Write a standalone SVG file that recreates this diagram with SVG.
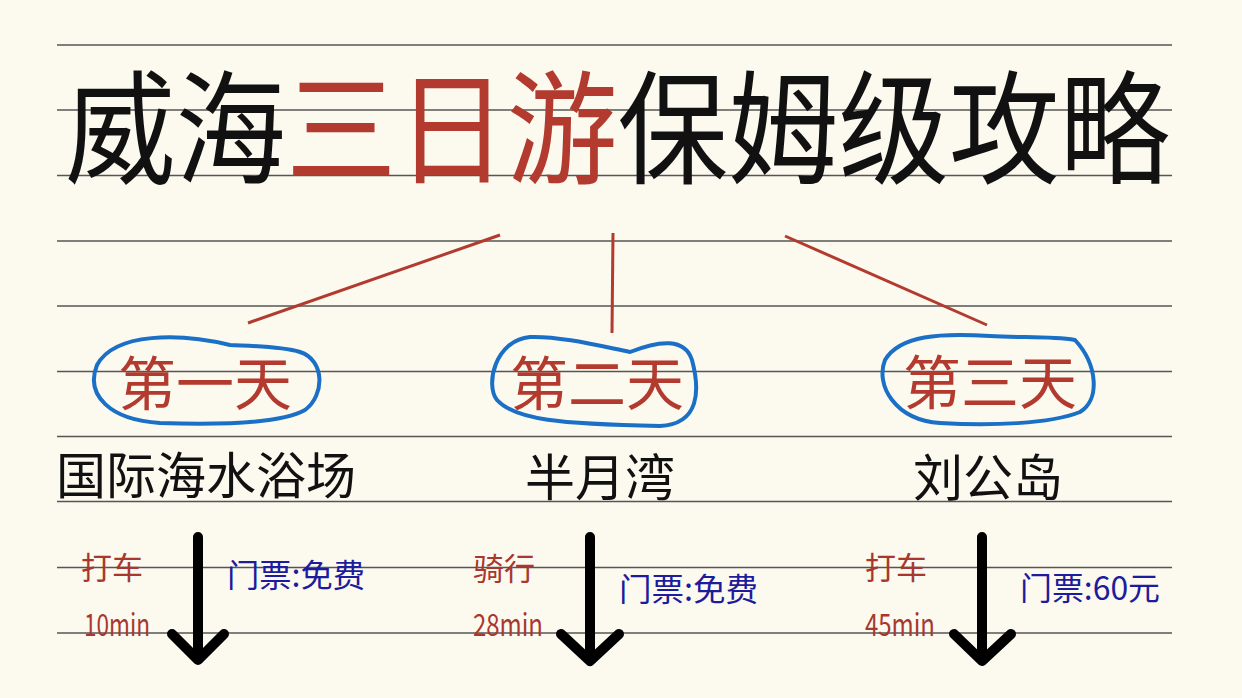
<svg xmlns="http://www.w3.org/2000/svg" width="1242" height="698" viewBox="0 0 1242 698">
<style>
.rule{stroke:#555;stroke-width:1.3}
.cjk{font-family:"Noto Sans CJK SC","Noto Sans",sans-serif}
.title{font-size:110px;fill:#111;font-weight:400}
.red{fill:#b23a2e}
.day{font-size:58px;fill:#b23a2e;text-anchor:middle}
.place{font-size:50px;fill:#111;text-anchor:middle}
.mode{font-size:31px;fill:#a8382f}
.time{font-size:31px;fill:#a8382f}
.ticket{font-size:32px;fill:#1c1c9c}
.bubble{fill:none;stroke:#1a6fc6;stroke-width:4}
.conn{stroke:#b23a2e;stroke-width:3;fill:none}
.arrow{stroke:#000;stroke-width:10;stroke-linecap:round;stroke-linejoin:round;fill:none}
</style>
<rect width="1242" height="698" fill="#fcf9ef"/>
<g id="rules">
<line class="rule" x1="57" y1="45" x2="1172" y2="45"/>
<line class="rule" x1="57" y1="110" x2="1172" y2="110"/>
<line class="rule" x1="57" y1="175.5" x2="1172" y2="175.5"/>
<line class="rule" x1="57" y1="241" x2="1172" y2="241"/>
<line class="rule" x1="57" y1="306" x2="1172" y2="306"/>
<line class="rule" x1="57" y1="371.5" x2="1172" y2="371.5"/>
<line class="rule" x1="57" y1="436.5" x2="1172" y2="436.5"/>
<line class="rule" x1="57" y1="501.5" x2="1172" y2="501.5"/>
<line class="rule" x1="57" y1="567.5" x2="1172" y2="567.5"/>
<line class="rule" x1="57" y1="633" x2="1172" y2="633"/>
</g>
<g id="title">
<text class="cjk title" x="65" y="0" transform="translate(0,174) scale(1,1.12)" textLength="1105" lengthAdjust="spacingAndGlyphs">威海<tspan class="red">三日游</tspan>保姆级攻略</text>
</g>
<g id="connectors">
<line class="conn" x1="500" y1="235" x2="248" y2="323"/>
<line class="conn" x1="613" y1="233" x2="612" y2="333"/>
<line class="conn" x1="785" y1="236" x2="987" y2="325"/>
</g>
<g id="day1">
<path class="bubble" d="M230,345 C180,333 115,332 97,365 C85,395 110,420 160,423 C220,425 280,424 305,410 C325,395 325,360 300,352 C280,346 250,346 230,345 Z"/>
<text class="cjk day" x="205" y="405">第一天</text>
<text class="cjk place" x="206" y="494">国际海水浴场</text>
</g>
<g id="day2">
<path class="bubble" d="M630,352 C600,346 560,336 530,337 C495,340 485,385 497,400 C515,420 560,424 660,426 C700,424 700,390 692,360 C685,338 660,340 630,352 Z"/>
<text class="cjk day" x="597" y="405">第二天</text>
<text class="cjk place" x="600" y="496">半月湾</text>
</g>
<g id="day3">
<path class="bubble" d="M990,336 C940,333 900,335 885,360 C875,385 895,420 940,423 C990,426 1050,424 1080,412 C1100,400 1098,365 1075,340 C1050,336 1020,338 990,336 Z"/>
<text class="cjk day" x="990" y="404">第三天</text>
<text class="cjk place" x="988" y="496">刘公岛</text>
</g>
<g id="leg1">
<path class="arrow" d="M198,537 L198,660 M172,634 L198,660 L224,634"/>
<text class="cjk mode" x="81" y="579">打车</text>
<text class="cjk time" x="84" y="636" textLength="66" lengthAdjust="spacingAndGlyphs">10min</text>
<text class="cjk ticket" x="227" y="587" textLength="138" lengthAdjust="spacingAndGlyphs">门票:免费</text>
</g>
<g id="leg2">
<path class="arrow" d="M590,537 L590,661 M561,634 L590,661 L619,634"/>
<text class="cjk mode" x="473" y="580">骑行</text>
<text class="cjk time" x="473" y="636" textLength="70" lengthAdjust="spacingAndGlyphs">28min</text>
<text class="cjk ticket" x="619" y="601" textLength="139" lengthAdjust="spacingAndGlyphs">门票:免费</text>
</g>
<g id="leg3">
<path class="arrow" d="M982,537 L982,661 M954,634 L982,661 L1011,634"/>
<text class="cjk mode" x="865" y="579">打车</text>
<text class="cjk time" x="865" y="636" textLength="70" lengthAdjust="spacingAndGlyphs">45min</text>
<text class="cjk ticket" x="1020" y="600" textLength="140" lengthAdjust="spacingAndGlyphs">门票:60元</text>
</g>
</svg>
